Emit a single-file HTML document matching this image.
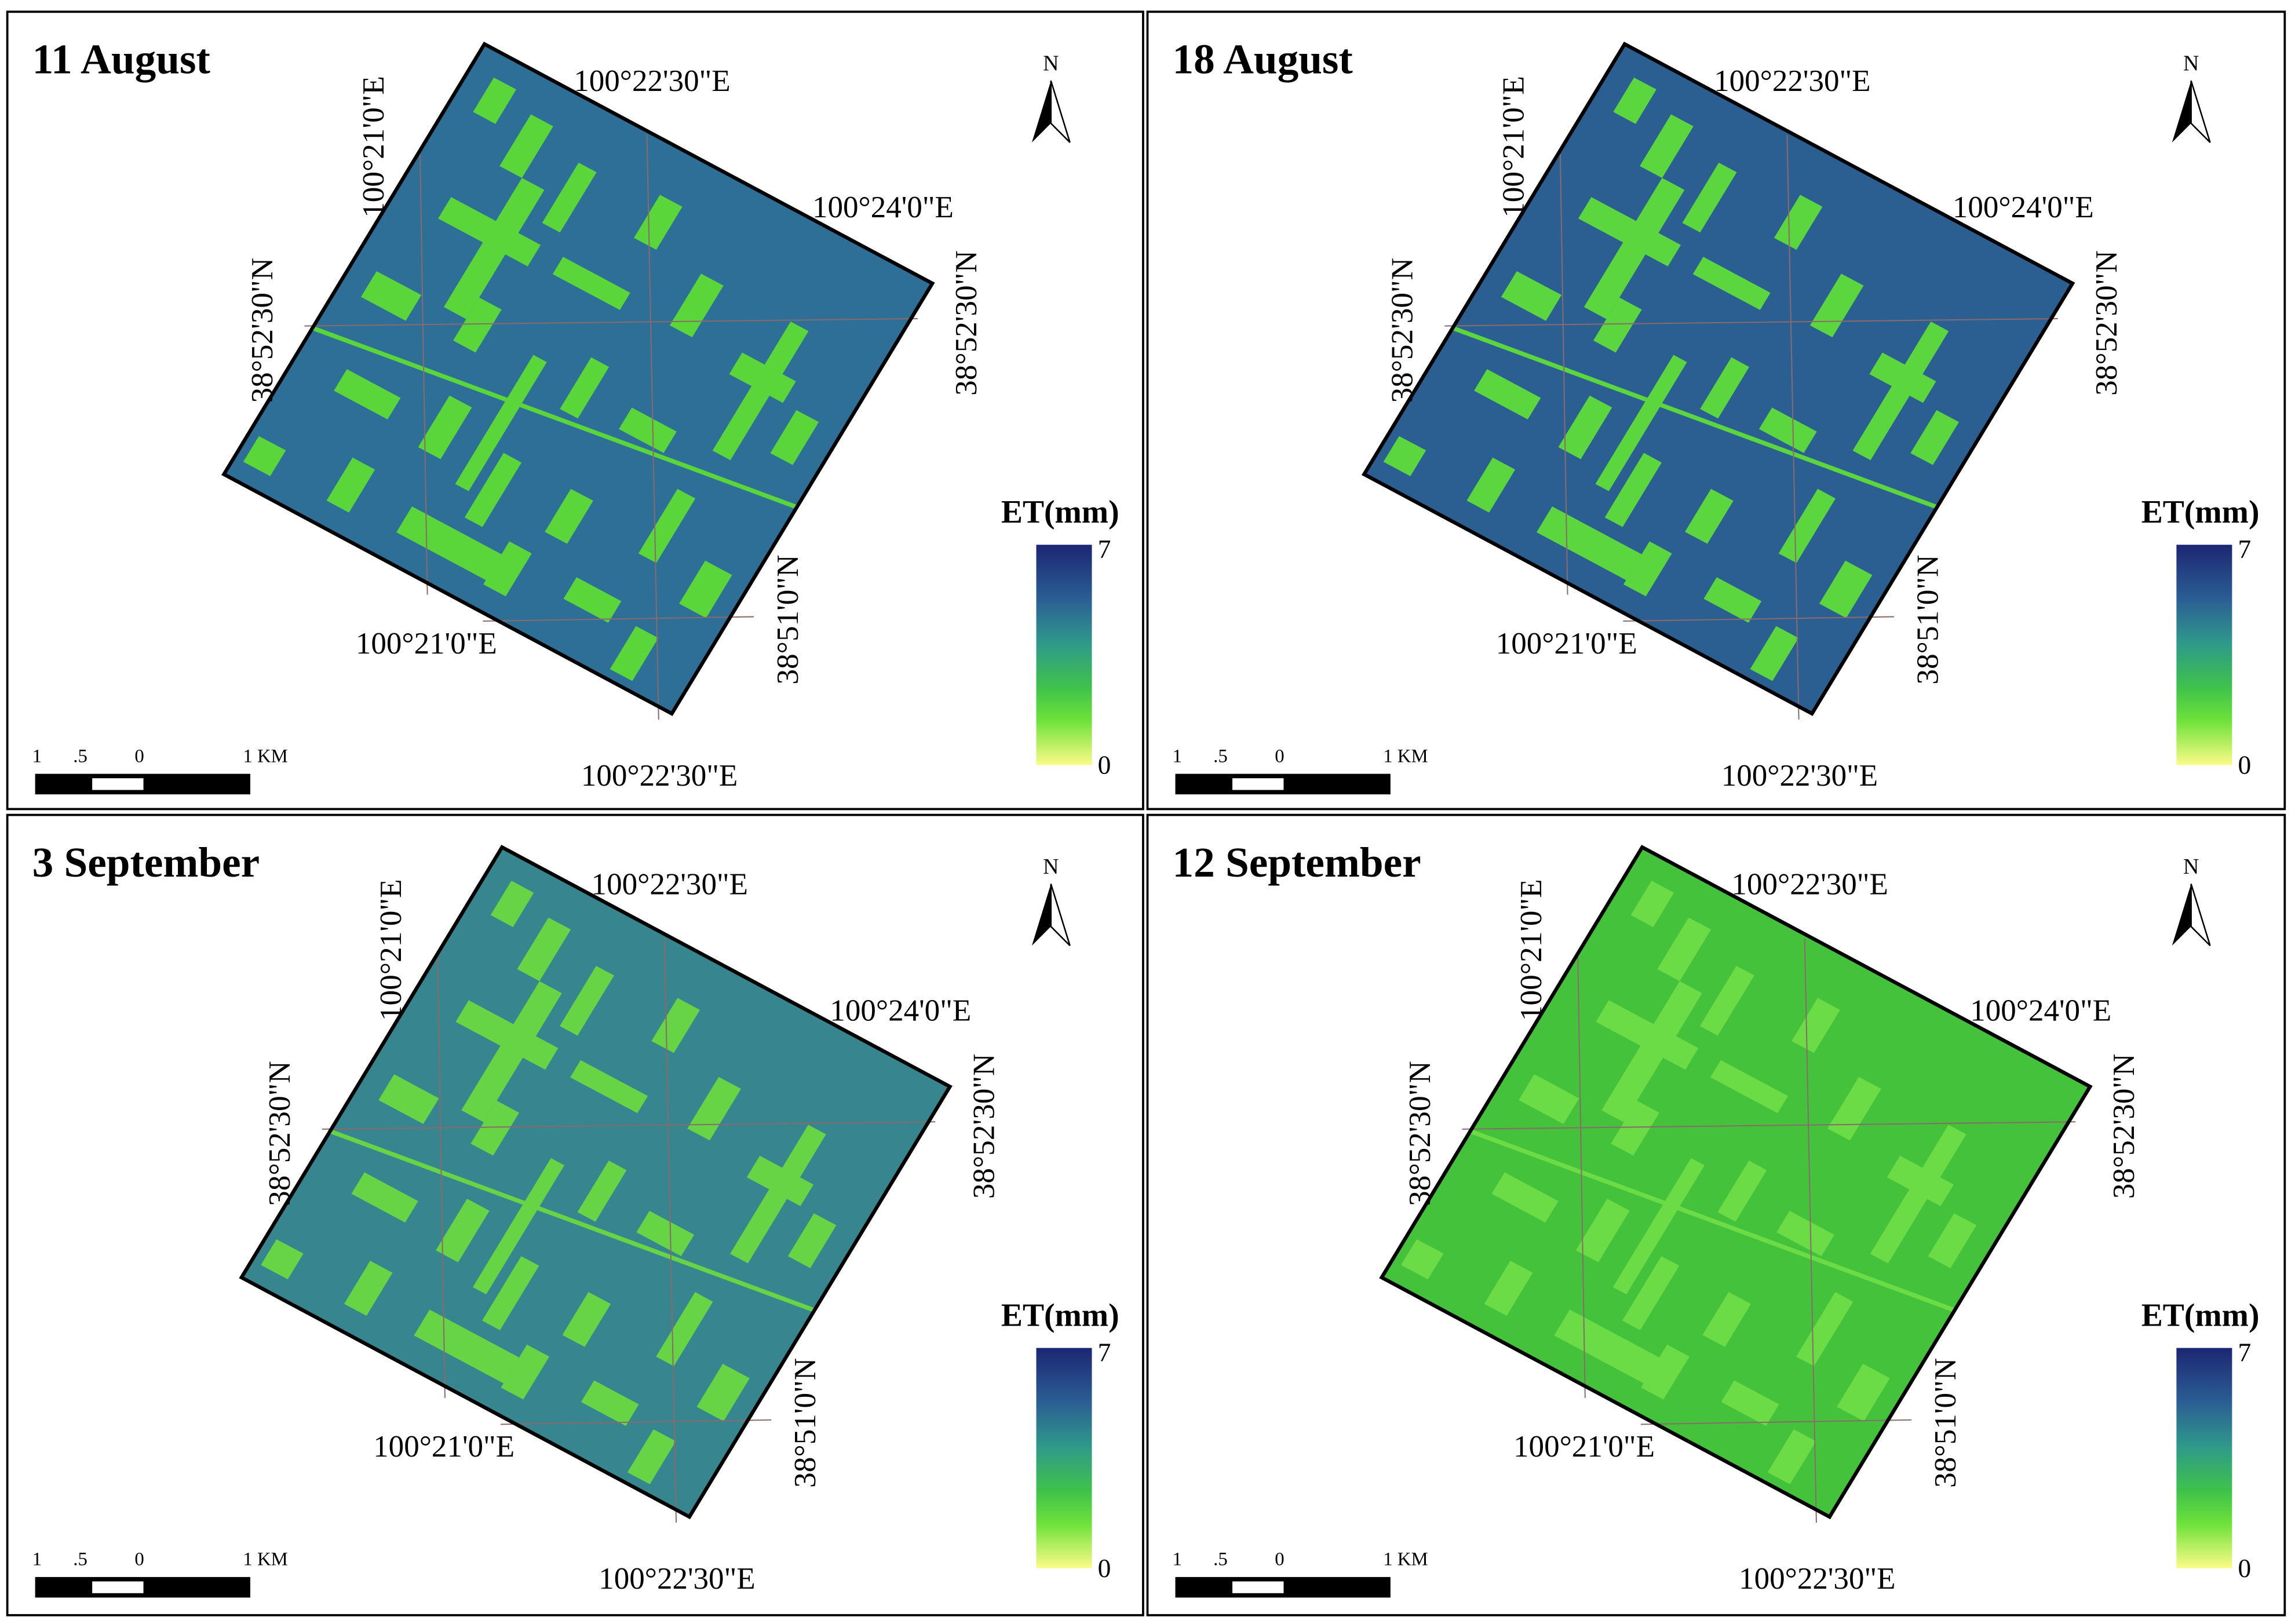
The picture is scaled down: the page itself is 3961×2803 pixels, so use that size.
<!DOCTYPE html>
<html><head><meta charset="utf-8"><style>
html,body{margin:0;padding:0;background:#fff;}
svg{display:block;}
text{font-family:"Liberation Serif",serif;fill:#000;}
</style></head><body>
<svg id="fig" width="3961" height="2803" viewBox="0 0 1568 1106" preserveAspectRatio="none" xmlns="http://www.w3.org/2000/svg">
<defs>
<linearGradient id="cbar" x1="0" y1="0" x2="0" y2="1">
<stop offset="0" stop-color="#1c2673"/>
<stop offset="0.25" stop-color="#2b5f94"/>
<stop offset="0.45" stop-color="#2f9a8a"/>
<stop offset="0.65" stop-color="#3fc24a"/>
<stop offset="0.8" stop-color="#6ee23a"/>
<stop offset="1" stop-color="#fbfb88"/>
</linearGradient>
</defs>
</svg>
<script>
const titles=["11 August","18 August","3 September","12 September"];
const baseColors=["#2e6f98","#2b5f92","#36858f","#45c23c"];
const patchColors=["#5ad63a","#5cd63e","#66d444","#6cdc46"];
const offsets=[[0,0],[779,0],[12,547],[791,547]];
const boxes=[[5,8,776,543],[784,8,777,543],[5,555,776,545],[784,555,777,545]];
// patches in map coords u (along top edge), v (along left edge), w, h
const patches=[[0.05,0.05,0.05,0.08],[0.15,0.08,0.05,0.12],[0.28,0.12,0.04,0.14],[0.45,0.1,0.05,0.1],
[0.1,0.3,0.2,0.05],[0.2,0.2,0.05,0.3],[0.35,0.3,0.15,0.04],[0.6,0.2,0.05,0.12],[0.75,0.3,0.12,0.05],
[0.8,0.2,0.04,0.3],[0.9,0.35,0.05,0.1],[0.05,0.5,0.1,0.06],[0.25,0.45,0.05,0.1],[0.5,0.45,0.04,0.12],
[0.62,0.5,0.1,0.05],[0.1,0.7,0.12,0.05],[0.3,0.65,0.05,0.12],[0.45,0.7,0.04,0.15],[0.6,0.7,0.05,0.1],
[0.78,0.6,0.04,0.15],[0.9,0.7,0.06,0.1],[0.2,0.85,0.05,0.1],[0.35,0.88,0.2,0.06],[0.55,0.85,0.05,0.1],
[0.7,0.85,0.1,0.05],[0.85,0.88,0.05,0.1],[0.02,0.9,0.06,0.06],[0.4,0.5,0.03,0.3]];
const NS="http://www.w3.org/2000/svg";
const svg=document.getElementById('fig');
function mk(tag,attrs,parent){const e=document.createElementNS(NS,tag);for(const k in attrs)e.setAttribute(k,attrs[k]);(parent||svg).appendChild(e);return e;}
const T=[331,30],A=[306,163],B=[-178,293];
function P(u,v,dx,dy){return [T[0]+u*A[0]+v*B[0]+dx,T[1]+u*A[1]+v*B[1]+dy];}
function poly(pts){return pts.map(p=>p[0].toFixed(1)+','+p[1].toFixed(1)).join(' ');}
function txt(x,y,s,size,opt,parent){const t=mk('text',Object.assign({x:x,y:y,'font-size':size},opt||{}),parent);t.textContent=s;return t;}
for(let i=0;i<4;i++){
 const [dx,dy]=offsets[i],b=boxes[i];
 const g=mk('g',{});
 
 
 const fr=mk('rect',{x:b[0],y:b[1],width:b[2],height:b[3],fill:'#fff',stroke:'#000','stroke-width':1.5},g);
 
 const m=mk('polygon',{points:poly([P(0,0,dx,dy),P(1,0,dx,dy),P(1,1,dx,dy),P(0,1,dx,dy)]),fill:baseColors[i]},g);
 
 patches.forEach(p=>{const pg=mk('polygon',{points:poly([P(p[0],p[1],dx,dy),P(p[0]+p[2],p[1],dx,dy),P(p[0]+p[2],p[1]+p[3],dx,dy),P(p[0],p[1]+p[3],dx,dy)]),fill:patchColors[i]},g);
  });
 // diagonal canal
 const c1=P(0,0.66,dx,dy),c2=P(1,0.52,dx,dy);
 mk('line',{x1:c1[0],y1:c1[1],x2:c2[0],y2:c2[1],stroke:patchColors[i],'stroke-width':3},g);
 // graticule
 mk('line',{x1:153+dx+55,y1:222+dy,x2:637+dx-10,y2:217+dy,stroke:'#8a6a6a','stroke-width':0.8},g);
 mk('line',{x1:287+dx,y1:105+dy,x2:292+dx,y2:405+dy,stroke:'#8a6a6a','stroke-width':0.8},g);
 mk('line',{x1:442+dx,y1:92+dy,x2:450+dx,y2:490+dy,stroke:'#8a6a6a','stroke-width':0.8},g);
 mk('line',{x1:330+dx,y1:423+dy,x2:515+dx,y2:420+dy,stroke:'#8a6a6a','stroke-width':0.8},g);
 mk('polygon',{points:poly([P(0,0,dx,dy),P(1,0,dx,dy),P(1,1,dx,dy),P(0,1,dx,dy)]),fill:'none',stroke:'#000','stroke-width':2.5},g);
 const px=b[0]-5,py=b[1]-8;
 const ti=txt(22+px,50+py,titles[i],29,{'font-weight':'bold'},g);
 
 txt(392+dx,62+dy,'100°22\'30"E',21,{},g);
 txt(555+dx,148+dy,'100°24\'0"E',21,{},g);
 txt(243+dx,445+dy,'100°21\'0"E',21,{},g);
 txt(397+dx,535+dy,'100°22\'30"E',21,{},g);
 txt(0,0,'100°21\'0"E',21,{transform:`translate(${262+dx},${100+dy}) rotate(-90)`,'text-anchor':'middle'},g);
 txt(0,0,'38°52\'30"N',21,{transform:`translate(${186+dx},${225+dy}) rotate(-90)`,'text-anchor':'middle'},g);
 txt(0,0,'38°52\'30"N',21,{transform:`translate(${667+dx},${220+dy}) rotate(-90)`,'text-anchor':'middle'},g);
 txt(0,0,'38°51\'0"N',21,{transform:`translate(${545+dx},${422+dy}) rotate(-90)`,'text-anchor':'middle'},g);
 // north arrow
 const na=mk('g',{},g);
 txt(718+px,48+py,'N',15,{'text-anchor':'middle','font-family':'Liberation Sans'},na);
 mk('polygon',{points:`${718+px},${55+py} ${705+px},${97+py} ${718+px},${84+py}`,fill:'#000'},na);
 mk('polygon',{points:`${718+px},${55+py} ${731+px},${97+py} ${718+px},${84+py}`,fill:'#fff',stroke:'#000','stroke-width':1},na);
 // legend
 const lg=mk('g',{},g);
 txt(684+px,356+py,'ET(mm)',22,{'font-weight':'bold'},lg);
 mk('rect',{x:708+px,y:371+py,width:38,height:150,fill:'url(#cbar)'},lg);
 txt(750+px,380+py,'7',18,{},lg);
 txt(750+px,527+py,'0',18,{},lg);
 // scale bar
 const sb=mk('g',{},g);
 txt(22+px,519+py,'1',13,{},sb);txt(50+px,519+py,'.5',13,{},sb);txt(92+px,519+py,'0',13,{},sb);txt(166+px,519+py,'1 KM',13,{},sb);
 mk('rect',{x:24+px,y:527+py,width:147,height:14,fill:'#000'},sb);
 mk('rect',{x:63+px,y:530+py,width:35,height:8,fill:'#fff'},sb);
}
</script>
</body></html>
